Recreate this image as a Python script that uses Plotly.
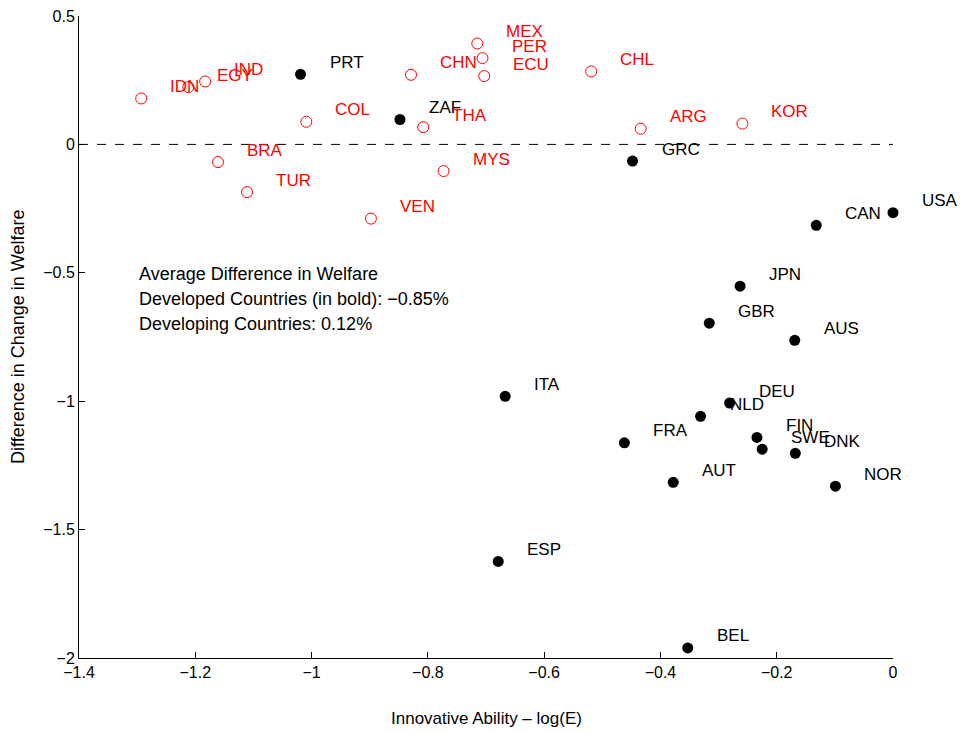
import plotly.graph_objects as go

# Developed countries (black filled)
dev_names = ["PRT", "ZAF", "GRC", "USA", "CAN", "JPN", "GBR", "AUS", "DEU", "NLD",
             "ITA", "FRA", "FIN", "SWE", "DNK", "AUT", "NOR", "ESP", "BEL"]
dev_x = [-1.019, -0.848, -0.448, 0.000, -0.132, -0.263, -0.316, -0.169, -0.281, -0.331,
         -0.667, -0.462, -0.234, -0.225, -0.168, -0.378, -0.099, -0.679, -0.353]
dev_y = [0.273, 0.097, -0.065, -0.266, -0.315, -0.552, -0.696, -0.763, -1.007, -1.059,
         -0.981, -1.162, -1.141, -1.187, -1.203, -1.316, -1.331, -1.624, -1.961]

# Developing countries (red open)
dvg_names = ["IDN", "EGY", "IND", "COL", "BRA", "TUR", "VEN", "CHN", "THA", "MEX",
             "PER", "ECU", "CHL", "ARG", "KOR", "MYS"]
dvg_x = [-1.293, -1.212, -1.183, -1.009, -1.161, -1.111, -0.898, -0.829, -0.808, -0.715,
         -0.706, -0.703, -0.519, -0.434, -0.259, -0.773]
dvg_y = [0.179, 0.223, 0.245, 0.088, -0.069, -0.186, -0.289, 0.271, 0.067, 0.393,
         0.336, 0.266, 0.284, 0.061, 0.081, -0.104]

x_ticks = [-1.4, -1.2, -1.0, -0.8, -0.6, -0.4, -0.2, 0]
x_tick_labels = ["−1.4", "−1.2", "−1", "−0.8", "−0.6", "−0.4", "−0.2", "0"]
y_ticks = [-2, -1.5, -1, -0.5, 0, 0.5]
y_tick_labels = ["−2", "−1.5", "−1", "−0.5", "0", "0.5"]

note_lines = ["Average Difference in Welfare",
              "Developed Countries (in bold): −0.85%",
              "Developing Countries: 0.12%"]

FONT = "Liberation Sans, Arial, sans-serif"

fig = go.Figure()
fig.add_trace(go.Scatter(x=dvg_x, y=dvg_y, mode="markers",
                         marker=dict(symbol="circle-open", size=11, color="red",
                                     line=dict(width=1, color="red")),
                         showlegend=False, cliponaxis=False))
fig.add_trace(go.Scatter(x=dev_x, y=dev_y, mode="markers",
                         marker=dict(symbol="circle", size=11, color="black"),
                         showlegend=False, cliponaxis=False))

annotations = []
for n, x, y in zip(dev_names, dev_x, dev_y):
    annotations.append(dict(x=x, y=y, xref="x", yref="y", text=n, showarrow=False,
                            xanchor="left", yanchor="middle", xshift=27, yshift=12,
                            font=dict(family=FONT, size=17, color="black")))
for n, x, y in zip(dvg_names, dvg_x, dvg_y):
    annotations.append(dict(x=x, y=y, xref="x", yref="y", text=n, showarrow=False,
                            xanchor="left", yanchor="middle", xshift=27, yshift=12,
                            font=dict(family=FONT, size=17, color="red")))
note_y = [0.598, 0.559, 0.520]
for line, ny in zip(note_lines, note_y):
    annotations.append(dict(x=0.0713, y=ny, xref="paper", yref="paper",
                            text=line, showarrow=False, xanchor="left", yanchor="middle",
                            font=dict(family=FONT, size=18, color="black")))
# axis titles
annotations.append(dict(x=0.5, y=0, xref="paper", yref="paper", yshift=-60,
                        text="Innovative Ability – log(E)", showarrow=False,
                        xanchor="center", yanchor="middle",
                        font=dict(family=FONT, size=17, color="black")))
annotations.append(dict(x=0, y=0.5, xref="paper", yref="paper", xshift=-61,
                        text="Difference in Change in Welfare", showarrow=False,
                        textangle=-90, xanchor="center", yanchor="middle",
                        font=dict(family=FONT, size=18, color="black")))

fig.update_layout(
    width=961, height=732,
    margin=dict(l=79, r=68, t=16, b=74),
    paper_bgcolor="white", plot_bgcolor="white",
    font=dict(family=FONT, size=16, color="black"),
    annotations=annotations,
    shapes=[dict(type="line", xref="paper", yref="y", x0=0, x1=1, y0=0, y1=0,
                 line=dict(color="black", width=1, dash="dash"))],
    xaxis=dict(range=[-1.4, 0], tickvals=x_ticks, ticktext=x_tick_labels,
               showgrid=False, zeroline=False, showline=True, linecolor="black",
               linewidth=1, ticks="inside", ticklen=6, tickcolor="black",
               automargin=False, tickfont=dict(family=FONT, size=16)),
    yaxis=dict(range=[-2, 0.5], tickvals=y_ticks, ticktext=y_tick_labels,
               showgrid=False, zeroline=False, showline=True, linecolor="black",
               linewidth=1, ticks="inside", ticklen=6, tickcolor="black",
               automargin=False, tickfont=dict(family=FONT, size=16)),
)

fig.write_html("out.html", config={"displayModeBar": False},
               post_script="document.body.style.margin='0px';"
                           "document.body.style.overflow='hidden';")
